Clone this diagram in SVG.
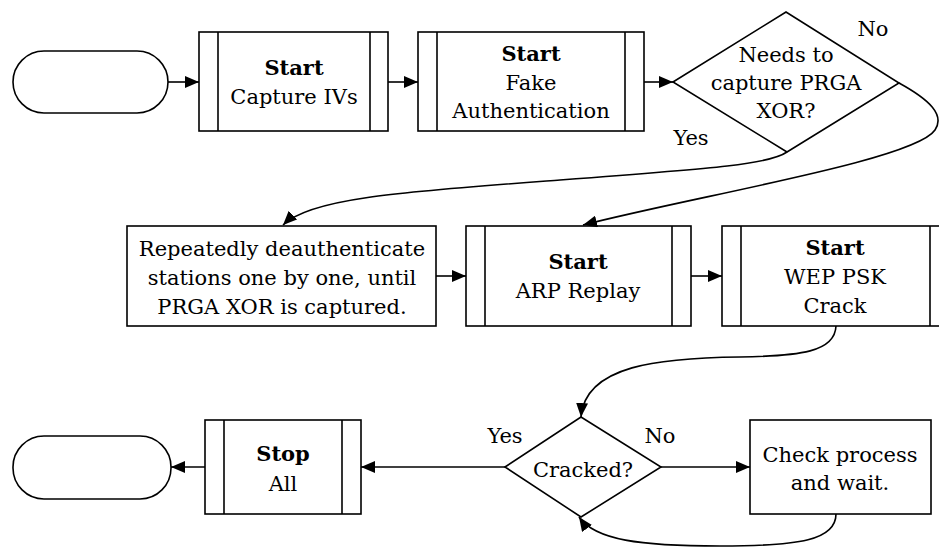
<svg xmlns="http://www.w3.org/2000/svg" width="939" height="547" viewBox="0 0 939 547">
<style>
.s{fill:#fff;stroke:#000;stroke-width:1.6}
.c{fill:none;stroke:#000;stroke-width:1.6}
.t{font-family:'DejaVu Serif',serif;font-size:21px;fill:#000;text-anchor:middle}
.b{font-weight:bold}
</style>
<defs>
<marker id="ar" viewBox="0 0 14 12" refX="14" refY="6" markerWidth="14" markerHeight="12" markerUnits="userSpaceOnUse" orient="auto">
<path d="M0,0 L14,6 L0,12 Z" fill="#000"/>
</marker>
</defs>
<g id="start"><rect class="s" x="13" y="51" width="155" height="62" rx="31" ry="31"/></g>
<g id="capture"><rect class="s" x="199" y="32" width="189" height="99"/><line class="c" x1="218" y1="32" x2="218" y2="131"/><line class="c" x1="370" y1="32" x2="370" y2="131"/>
<text class="t b" x="294" y="75">Start</text><text class="t" x="294" y="104">Capture IVs</text></g>
<g id="fakeauth"><rect class="s" x="418" y="32" width="226" height="99"/><line class="c" x1="437" y1="32" x2="437" y2="131"/><line class="c" x1="625" y1="32" x2="625" y2="131"/>
<text class="t b" x="531" y="61">Start</text><text class="t" x="531" y="90">Fake</text><text class="t" x="531" y="118">Authentication</text></g>
<g id="needs"><polygon class="s" points="673,82 786,12 899,83 787,152"/>
<text class="t" x="786" y="62">Needs to</text><text class="t" x="786" y="90">capture PRGA</text><text class="t" x="786" y="118">XOR?</text></g>
<g id="deauth"><rect class="s" x="127" y="226" width="309" height="100"/>
<text class="t" x="282" y="256">Repeatedly deauthenticate</text><text class="t" x="282" y="285">stations one by one, until</text><text class="t" x="282" y="314">PRGA XOR is captured.</text></g>
<g id="arp"><rect class="s" x="466" y="226" width="225" height="100"/><line class="c" x1="485" y1="226" x2="485" y2="326"/><line class="c" x1="672" y1="226" x2="672" y2="326"/>
<text class="t b" x="578" y="269">Start</text><text class="t" x="578" y="298">ARP Replay</text></g>
<g id="crack"><rect class="s" x="722" y="226" width="222" height="100"/><line class="c" x1="741" y1="226" x2="741" y2="326"/><line class="c" x1="930" y1="226" x2="930" y2="326"/>
<text class="t b" x="835" y="255">Start</text><text class="t" x="835" y="284">WEP PSK</text><text class="t" x="835" y="313">Crack</text></g>
<g id="end"><rect class="s" x="13" y="436" width="158" height="63" rx="31" ry="31"/></g>
<g id="stop"><rect class="s" x="205" y="420" width="156" height="94"/><line class="c" x1="224" y1="420" x2="224" y2="514"/><line class="c" x1="342" y1="420" x2="342" y2="514"/>
<text class="t b" x="283" y="461">Stop</text><text class="t" x="283" y="491">All</text></g>
<g id="cracked"><polygon class="s" points="505,467 581,417 661,467 581,517"/>
<text class="t" x="583" y="477">Cracked?</text></g>
<g id="check"><rect class="s" x="750" y="420" width="181" height="94"/>
<text class="t" x="840" y="462">Check process</text><text class="t" x="840" y="490">and wait.</text></g>
<g id="connectors">
<line class="c" x1="168" y1="82" x2="199" y2="82" marker-end="url(#ar)"/>
<line class="c" x1="388" y1="82" x2="418" y2="82" marker-end="url(#ar)"/>
<line class="c" x1="644" y1="82" x2="673" y2="82" marker-end="url(#ar)"/>
<path class="c" d="M787,152 C770,164 720,168 560,180 C400,192 310,198 283,225" marker-end="url(#ar)"/>
<path class="c" d="M899,83 C930,100 945,115 935,130 C915,160 700,195 583,225" marker-end="url(#ar)"/>
<line class="c" x1="436" y1="276" x2="466" y2="276" marker-end="url(#ar)"/>
<line class="c" x1="691" y1="276" x2="722" y2="276" marker-end="url(#ar)"/>
<path class="c" d="M836,326 C835,352 800,356 740,357 C660,358 585,365 581,417" marker-end="url(#ar)"/>
<line class="c" x1="505" y1="467" x2="361" y2="467" marker-end="url(#ar)"/>
<line class="c" x1="661" y1="467" x2="750" y2="467" marker-end="url(#ar)"/>
<path class="c" d="M836,514 C836,540 800,546 720,546 C640,546 595,540 579,517" marker-end="url(#ar)"/>
<line class="c" x1="205" y1="467" x2="171" y2="467" marker-end="url(#ar)"/>
<text class="t" x="873" y="36">No</text><text class="t" x="691" y="145">Yes</text>
<text class="t" x="505" y="443">Yes</text><text class="t" x="660" y="443">No</text>
</g>
</svg>
